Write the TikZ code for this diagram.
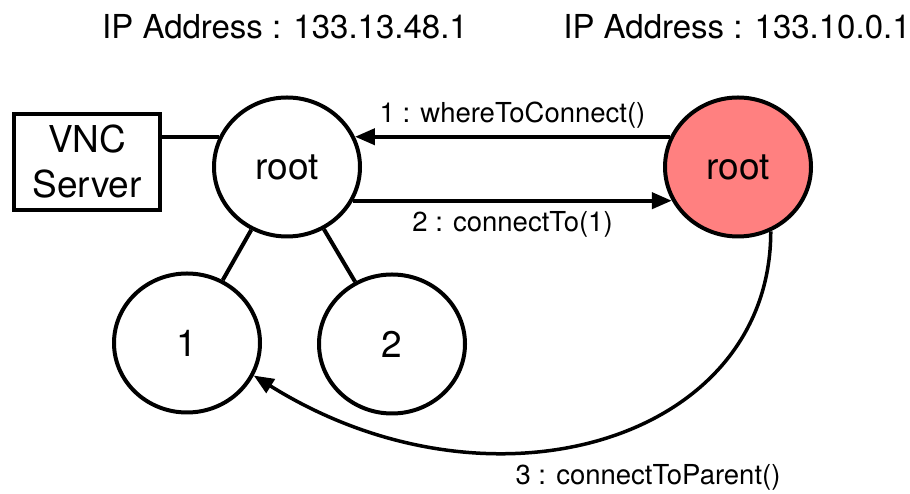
\documentclass[tikz,border=0pt]{standalone}
\usepackage{fontspec}
\setmainfont{TeX Gyre Heros}
\usepackage{tikz}
\usetikzlibrary{shapes,arrows.meta}
\definecolor{host_red}{RGB}{255, 128, 128}
\tikzstyle{pn}=[ellipse,draw=black,line width=4pt,inner sep=0pt,
  minimum width=146pt,minimum height=139pt,font=\fontsize{37}{44}\selectfont]
\tikzstyle{rpn}=[pn,fill=host_red]
\tikzstyle{bx}=[rectangle,draw=black,line width=4pt,align=center,
  minimum width=146pt,minimum height=96pt,font=\fontsize{37}{45}\selectfont]
\tikzstyle{ip}=[anchor=base,inner sep=0pt,font=\fontsize{33}{40}\selectfont]
\tikzstyle{lbl}=[anchor=base,inner sep=0pt,font=\fontsize{27.5}{33}\selectfont]
\tikzstyle{msg}=[line width=4pt,-{Triangle[length=20pt,width=16pt]}]

\begin{document}
\begin{tikzpicture}[x=1pt,y=1pt]
    \useasboundingbox (0,0) rectangle (910,494);
    %\begin{pgfonlayer}{nodelayer}
    \node [style=ip] (ipa) at (285, 455) {IP Address : 133.13.48.1};
    \node [style=ip] (ipb) at (737, 455) {IP Address : 133.10.0.1};
    \node [style=bx] (vnc) at (87, 332) {VNC\\Server};
    \node [style=pn] (ra) at (287, 327) {root};
    \node [style=rpn] (rb) at (738, 327) {root};
    \node [style=pn] (1) at (187, 151) {1};
    \node [style=pn] (2) at (392, 150) {2};
    \node [style=lbl] (m3) at (648, 9) {3 : connectToParent()};
    %\end{pgfonlayer}
    %\begin{pgfonlayer}{edgelayer}
    \draw [line width=4pt] (vnc.east |- ra.156) to (ra.156);
    \draw [line width=4pt] (ra) to (1);
    \draw [line width=4pt] (ra) to (2);
    \draw [style=msg] (rb.156) to node [style=lbl, midway, yshift=14pt] (m1) {1 : whereToConnect()} (ra.24);
    \draw [style=msg] (ra.333) to node [style=lbl, midway, yshift=-31pt] (m2) {2 : connectTo(1)} (rb.207);
    \draw [style=msg, line width=3.5pt] (rb.297) .. controls +(0,-210) and +(328:280) .. (1.334);
    %\end{pgfonlayer}
\end{tikzpicture}
\end{document}
